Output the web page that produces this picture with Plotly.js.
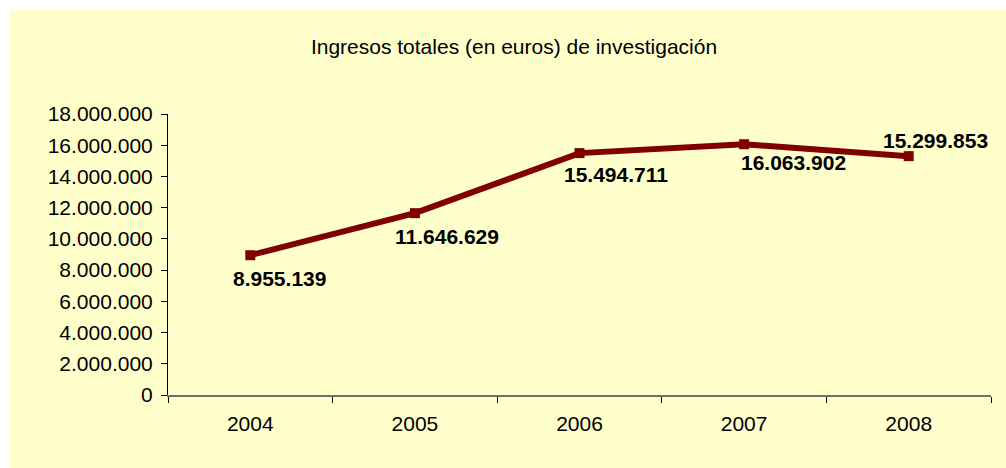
<!DOCTYPE html>
<html>
<head>
<meta charset="utf-8">
<script src="https://cdn.plot.ly/plotly-3.0.1.min.js"></script>
<style>
html,body{margin:0;padding:0;background:#ffffff;width:1006px;height:468px;overflow:hidden;}
#chart{position:absolute;left:10px;top:10px;width:996px;height:458px;}
</style>
</head>
<body>
<div id="chart"></div>
<script>
const years = ['2004', '2005', '2006', '2007', '2008'];
const ingresos = [8955139, 11646629, 15494711, 16063902, 15299853];
const chartTitle = 'Ingresos totales (en euros) de investigación';

function fmt(v) {
  return String(Math.round(v)).replace(/\B(?=(\d{3})+(?!\d))/g, '.');
}

// label offsets (px) relative to each point
const labelShift = [[29, -23], [32, -23], [36, -21], [49, -18], [27, 16]];

const FONT = 'Liberation Sans, Arial, sans-serif';

const trace = {
  x: years,
  y: ingresos,
  type: 'scatter',
  mode: 'lines+markers',
  line: {color: '#800000', width: 6},
  marker: {symbol: 'square', size: 10, color: '#800000'},
  hoverinfo: 'skip',
  cliponaxis: false
};

const annotations = years.map((yr, i) => ({
  x: i, y: ingresos[i], xref: 'x', yref: 'y',
  text: '<b>' + fmt(ingresos[i]) + '</b>',
  showarrow: false,
  xshift: labelShift[i][0], yshift: labelShift[i][1],
  xanchor: 'center', yanchor: 'middle',
  font: {family: FONT, size: 21, color: '#000000'}
}));

const layout = {
  width: 996, height: 458,
  paper_bgcolor: '#FFFFCC',
  plot_bgcolor: 'rgba(0,0,0,0)',
  separators: ',.',
  showlegend: false,
  margin: {l: 158, r: 15, t: 104, b: 73, pad: 0},
  title: {
    text: chartTitle,
    font: {family: FONT, size: 21, color: '#000000'},
    x: 504 / 996, xanchor: 'center', xref: 'container',
    y: 1 - 37 / 458, yanchor: 'middle', yref: 'container'
  },
  xaxis: {
    type: 'category',
    range: [-0.5, 4.5],
    showline: true, linecolor: '#707070', linewidth: 2,
    showgrid: false, zeroline: false,
    ticks: 'outside', tickson: 'boundaries', ticklen: 6, tickcolor: '#000000', tickwidth: 1,
    tickfont: {family: FONT, size: 21, color: '#000000'},
    ticklabelstandoff: 9
  },
  yaxis: {
    range: [0, 18000000],
    dtick: 2000000, tick0: 0,
    tickformat: ',d',
    showline: true, linecolor: '#000000', linewidth: 1,
    showgrid: false, zeroline: false,
    ticks: 'outside', ticklen: 6, tickcolor: '#000000', tickwidth: 1,
    tickfont: {family: FONT, size: 21, color: '#000000'},
    ticklabelstandoff: 4
  },
  annotations: annotations
};

Plotly.newPlot('chart', [trace], layout, {displayModeBar: false, staticPlot: true});
</script>
</body>
</html>
